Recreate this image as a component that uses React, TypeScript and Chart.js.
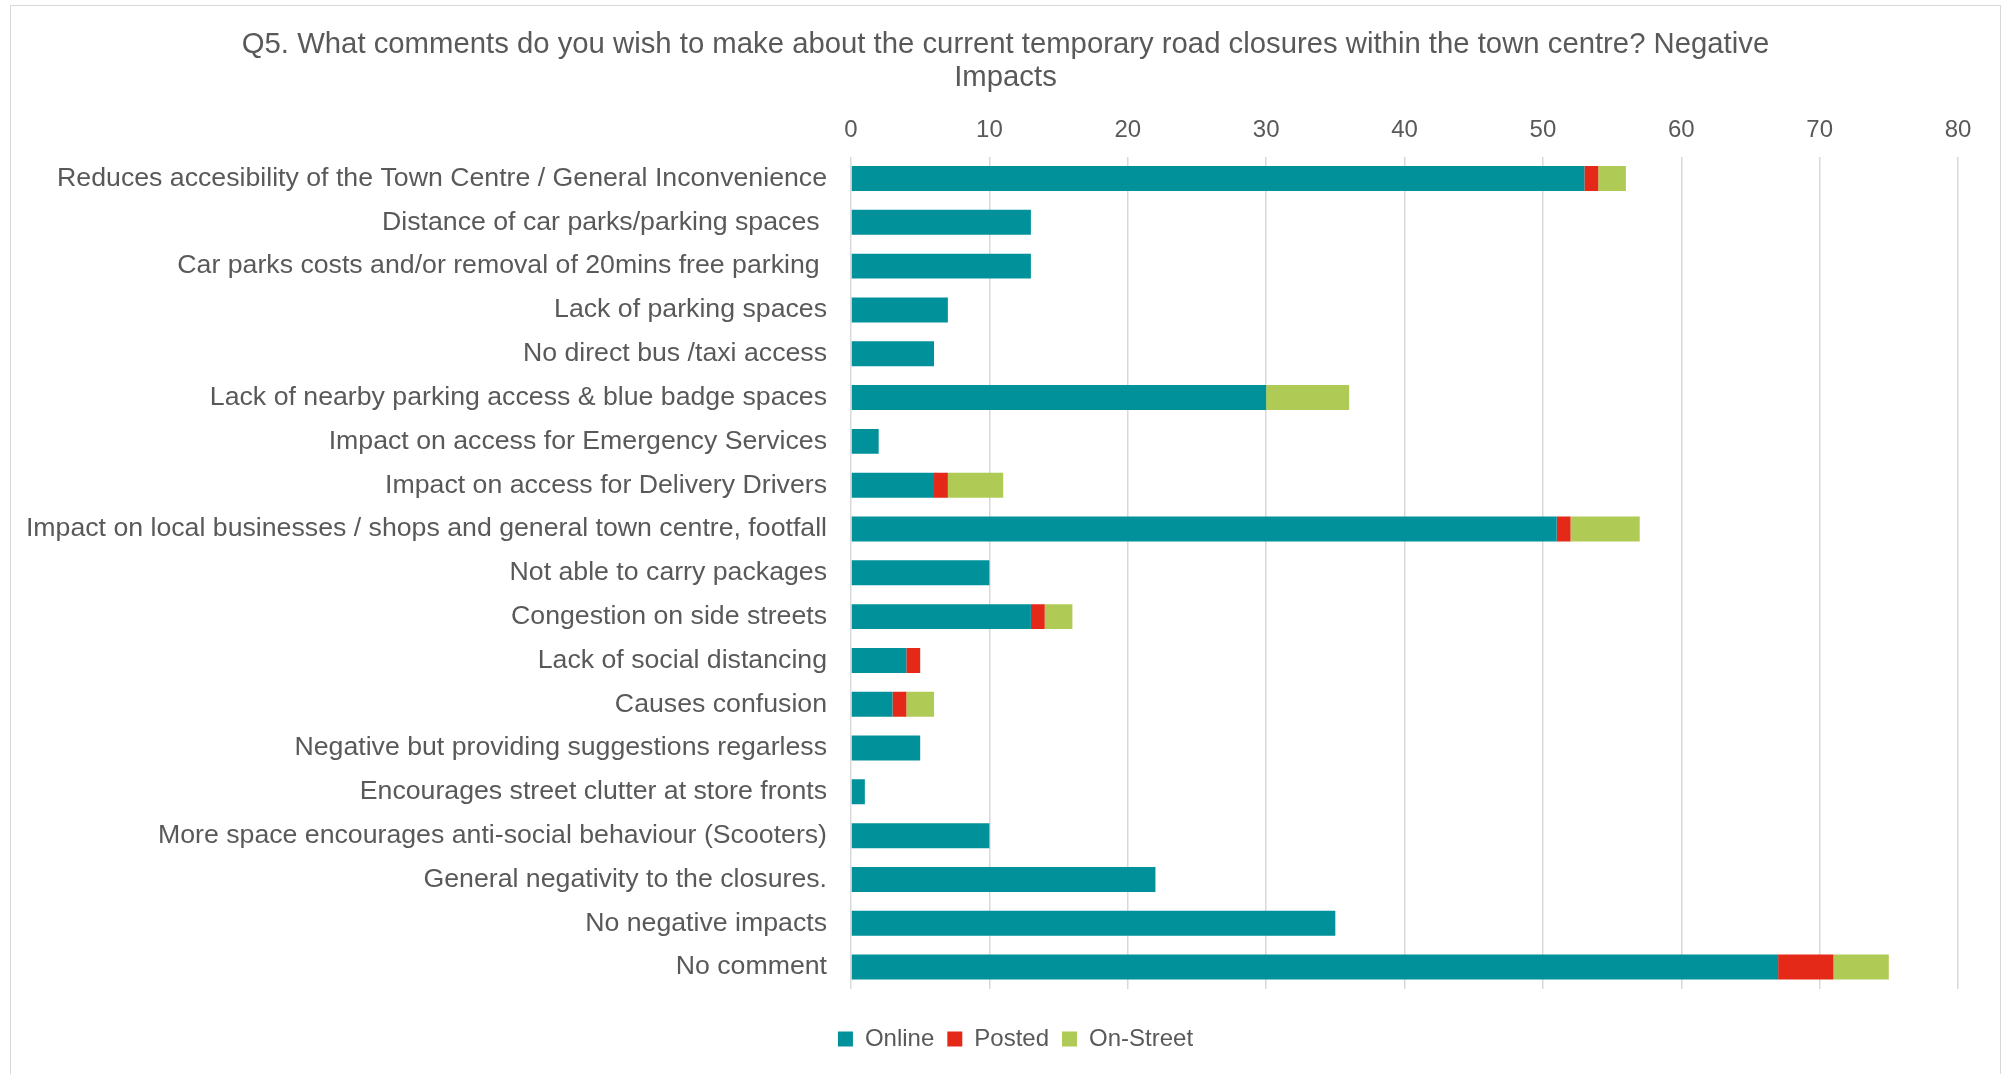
import React, { useEffect, useRef } from "react";
import { Chart, registerables } from "chart.js";

Chart.register(...registerables);

const categories = [
  "Reduces accesibility of the Town Centre / General Inconvenience",
  "Distance of car parks/parking spaces ",
  "Car parks costs and/or removal of 20mins free parking ",
  "Lack of parking spaces",
  "No direct bus /taxi access",
  "Lack of nearby parking access & blue badge spaces",
  "Impact on access for Emergency Services",
  "Impact on access for Delivery Drivers",
  "Impact on local businesses / shops and general town centre, footfall",
  "Not able to carry packages",
  "Congestion on side streets",
  "Lack of social distancing",
  "Causes confusion",
  "Negative but providing suggestions regarless",
  "Encourages street clutter at store fronts",
  "More space encourages anti-social behaviour (Scooters)",
  "General negativity to the closures.",
  "No negative impacts",
  "No comment",
];

const online = [53, 13, 13, 7, 6, 30, 2, 6, 51, 10, 13, 4, 3, 5, 1, 10, 22, 35, 67];
const posted = [1, 0, 0, 0, 0, 0, 0, 1, 1, 0, 1, 1, 1, 0, 0, 0, 0, 0, 4];
const onStreet = [2, 0, 0, 0, 0, 6, 0, 4, 5, 0, 2, 0, 2, 0, 0, 0, 0, 0, 4];

const seriesNames = ["Online", "Posted", "On-Street"];
const seriesColors = ["#00919A", "#E52919", "#B0CB55"];

const titleLines = [
  "Q5. What comments do you wish to make about the current temporary road closures within the town centre? Negative",
  "Impacts",
];

const xTicks = [0, 10, 20, 30, 40, 50, 60, 70, 80];

const FONT = "'Liberation Sans', Arial, Helvetica, sans-serif";
const TEXT = "#595959";

const boxShift = {
  id: "boxShift",
  afterLayout(chart: any) {
    const lg = chart.legend;
    if (lg) {
      lg.left += 31;
      lg.right += 31;
    }
    const tb = chart.titleBlock;
    if (tb) {
      tb.left += 21;
      tb.right += 21;
    }
  },
};

export default function App() {
  const ref = useRef<HTMLCanvasElement | null>(null);

  useEffect(() => {
    if (!ref.current) return;
    const values = [online, posted, onStreet];
    const chart = new Chart(ref.current, {
      type: "bar",
      data: {
        labels: categories,
        datasets: seriesNames.map((name, i) => ({
          label: name,
          data: values[i],
          backgroundColor: seriesColors[i],
          borderWidth: 0,
          barPercentage: 0.57,
          categoryPercentage: 1,
        })),
      },
      plugins: [boxShift],
      options: {
        indexAxis: "y",
        responsive: false,
        animation: false,
        maintainAspectRatio: false,
        layout: { padding: { left: 0, right: 42, top: 0, bottom: 13 } },
        plugins: {
          tooltip: { enabled: false },
          title: {
            display: true,
            text: titleLines,
            color: TEXT,
            font: { family: FONT, size: 29.3, weight: "normal", lineHeight: 1.14 },
            padding: { top: 22, bottom: 20 },
          },
          legend: {
            display: true,
            position: "bottom",
            labels: {
              color: TEXT,
              font: { family: FONT, size: 24 },
              boxWidth: 15,
              boxHeight: 15,
              padding: 13,
            },
          },
        },
        scales: {
          x: {
            type: "linear",
            position: "top",
            stacked: true,
            min: 0,
            max: 80,
            afterBuildTicks: (s: any) => {
              s.ticks = xTicks.map((v) => ({ value: v }));
            },
            afterFit: (s: any) => {
              s.height = s.height - 11;
            },
            grid: { color: "#D9D9D9", lineWidth: 1.5, drawTicks: false },
            border: { display: false },
            ticks: {
              color: TEXT,
              font: { family: FONT, size: 24 },
              padding: 12,
            },
          },
          xSpacer: {
            type: "linear",
            position: "bottom",
            display: true,
            grid: { display: false, drawTicks: false },
            border: { display: false },
            ticks: { display: false },
            afterFit: (s: any) => {
              s.height = 25;
            },
          },
          y: {
            stacked: true,
            grid: { display: false, drawTicks: false },
            border: { display: false },
            ticks: {
              color: TEXT,
              font: { family: FONT, size: 26.7 },
              padding: 24,
              autoSkip: false,
            },
            afterFit: (s: any) => {
              s.width = 840;
            },
          },
        },
      },
    });
    return () => chart.destroy();
  }, []);

  return (
    <div
      style={{
        position: "absolute",
        left: 10,
        top: 5,
        width: 1991,
        height: 1069,
        boxSizing: "border-box",
        border: "1px solid #D9D9D9",
        borderBottom: "none",
        background: "#fff",
      }}
    >
      <canvas ref={ref} width={1989} height={1068} style={{ display: "block" }} />
    </div>
  );
}
